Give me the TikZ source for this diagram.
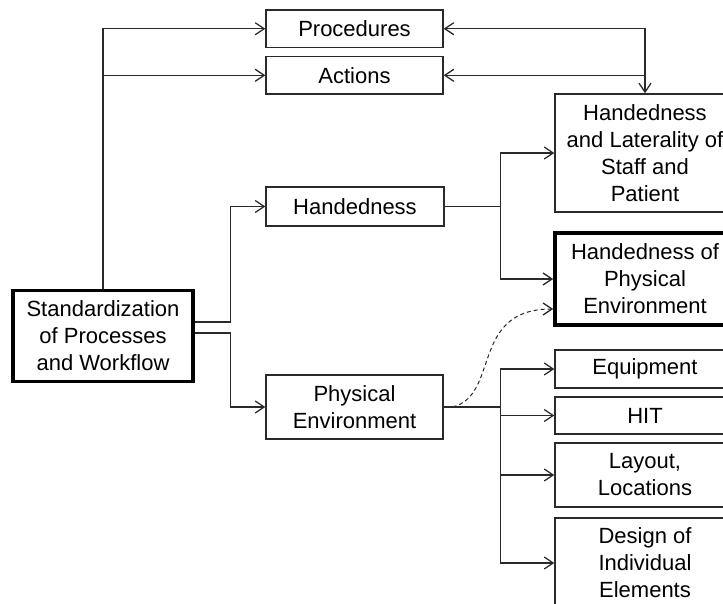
\documentclass[tikz,border=0pt]{standalone}
\usepackage{fontspec}
\setmainfont{Liberation Sans}
\usetikzlibrary{arrows.meta}
\definecolor{ln}{HTML}{2A2A2A}
\tikzset{
  box/.style={draw=ln, line width=1.3pt, rectangle, inner sep=0pt, align=center,
    font=\fontsize{22}{27}\selectfont, text=black},
  thickbox/.style={box, line width=3.6pt, draw=black},
  conn/.style={draw=ln, line width=1.3pt, -{Straight Barb[length=9pt,width=12pt,line width=1.3pt]}},
  conn2/.style={draw=ln, line width=1.3pt, {Straight Barb[length=9pt,width=12pt,line width=1.3pt]}-{Straight Barb[length=9pt,width=12pt,line width=1.3pt]}},
  plain/.style={draw=ln, line width=1.3pt}
}
\begin{document}
\begin{tikzpicture}[x=1pt,y=-1pt]
\useasboundingbox (0,0) rectangle (723,604);
\clip (0,0) rectangle (723,604);
\node[box, minimum width=177pt, minimum height=37.5pt] (proc) at (354.5,28.75) {Procedures};
\node[box, minimum width=177pt, minimum height=37.5pt] (act) at (354.5,75.3) {Actions};
\node[thickbox, minimum width=180pt, minimum height=91pt] (std) at (103,336) {Standardization\\of Processes\\and Workflow};
\node[box, minimum width=178pt, minimum height=39pt] (hand) at (355,206.5) {Handedness};
\node[box, minimum width=177pt, minimum height=64pt] (phys) at (354.5,407) {Physical\\Environment};
\node[box, minimum width=180pt, minimum height=118pt] (lat) at (645,153) {Handedness\\and Laterality of\\Staff and\\Patient};
\node[thickbox, minimum width=180pt, minimum height=92pt] (hpe) at (645,279) {Handedness of\\Physical\\Environment};
\node[box, minimum width=180pt, minimum height=38pt] (equip) at (645,369) {Equipment};
\node[box, minimum width=180pt, minimum height=37pt] (hit) at (645,415.5) {HIT};
\node[box, minimum width=180pt, minimum height=64pt] (layout) at (645,475) {Layout,\\Locations};
\node[box, minimum width=180pt, minimum height=90pt] (design) at (645,563) {Design of\\Individual\\Elements};

% left trunk
\draw[conn] (std.north) |- (proc.west);
\draw[conn] (std.north) |- (act.west);
% top right bidirectional
\draw[conn2] (proc.east) -| (lat.north);
\draw[conn] (act.east -| lat.north) -- (act.east);
% std to handedness / physical
\draw[conn] ([yshift=14pt]std.east) -- ++(36,0) |- (hand.west);
\draw[conn] ([yshift=3pt]std.east) -- ++(36,0) |- (phys.west);
% handedness branches
\draw[conn] (hand.east) -- ++(56,0) |- (lat.west);
\draw[conn] (hand.east) -- ++(56,0) |- (hpe.west);
% physical environment branches
\draw[conn] (phys.east) -- ++(57,0) |- (equip.west);
\draw[conn] (phys.east) -- ++(57,0) |- (hit.west);
\draw[conn] (phys.east) -- ++(57,0) |- (layout.west);
\draw[conn] (phys.east) -- ++(57,0) |- (design.west);
% dashed curve
\draw[conn, line width=1pt, dash pattern=on 4pt off 3pt] ([xshift=9pt]phys.east) .. controls (500,395) and (470,309) .. ([yshift=-30pt]hpe.west);
\end{tikzpicture}
\end{document}
